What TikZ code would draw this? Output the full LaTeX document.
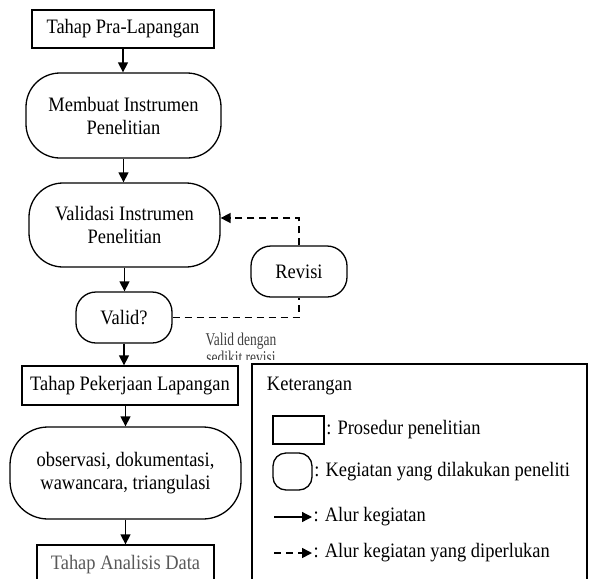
\documentclass[tikz,border=0pt]{standalone}
\usepackage{fontspec}
\setmainfont[FakeStretch=0.9]{Liberation Serif}
\newfontfamily\sempit[FakeStretch=0.75]{Liberation Serif}
\usetikzlibrary{arrows.meta}

\begin{document}
\begin{tikzpicture}[x=1pt,y=-1pt,line width=1.3pt,
  teks/.style={font=\fontsize{20.5}{23}\selectfont},
  prosedur/.style={draw, rectangle, inner sep=0pt, align=center, teks},
  kegiatan/.style={draw, rectangle, rounded corners=#1, inner sep=0pt, align=center, teks},
  kegiatan/.default=20pt,
  alur/.style={-{Triangle[length=10pt,width=10pt]}},
  putus/.style={line width=1.6pt, dash pattern=on 7pt off 5pt},
  alurperlu/.style={putus, -{Triangle[length=10pt,width=10pt]}}]
\useasboundingbox (0,0) rectangle (593,578);
% draws steps
\node[prosedur, minimum width=182pt, minimum height=38pt] (pra) at (123,29) {Tahap Pra-Lapangan};
\node[kegiatan=34pt, minimum width=195pt, minimum height=85pt] (membuat) at (123.5,115.5) {Membuat Instrumen\\Penelitian};
\node[kegiatan=34pt, minimum width=191pt, minimum height=84pt] (validasi) at (124.5,225) {Validasi Instrumen\\Penelitian};
\node[kegiatan, minimum width=96pt, minimum height=51pt] (valid) at (124,317.5) {Valid?};
\node[kegiatan, minimum width=96pt, minimum height=51pt] (revisi) at (299,271.5) {Revisi};
\node[prosedur, minimum width=216pt, minimum height=39pt] (pekerjaan) at (130,385.5) {Tahap Pekerjaan Lapangan};
\node[kegiatan=38pt, minimum width=231pt, minimum height=92pt] (observasi) at (125.5,473) {observasi, dokumentasi,\\wawancara, triangulasi};
\node[prosedur, text=black!65, minimum width=177pt, minimum height=40pt, text depth=0pt] (analisis) at (125.5,565) {\raisebox{6pt}{Tahap Analisis Data}};
% draws flow
\draw[alur] (pra.south) -- (pra.south |- membuat.north);
\draw[alur] (membuat.south) -- (membuat.south |- validasi.north);
\draw[alur] (validasi.south) -- (validasi.south |- valid.north);
\draw[alur] (valid.south) -- (valid.south |- pekerjaan.north);
\draw[alur] (pekerjaan.south -| observasi.north) -- (observasi.north);
\draw[alur] (observasi.south) -- (observasi.south |- analisis.north);
% draws revision loop
\coordinate (naik) at (299,218);
\draw[putus] (valid.east) -| (revisi.south);
\draw[alurperlu] (revisi.north) -- (naik) -- (naik -| validasi.east);
\begin{scope}
\clip (180,320) rectangle (300,359);
\node[align=center, text=black!75, font=\sempit\fontsize{18}{18}\selectfont] (catatan) at (241,348) {Valid dengan\\sedikit revisi};
\end{scope}
% draws legend
\draw[line width=1.1pt] (252,364) rectangle (587,600);
\node[anchor=west, teks] (keterangan) at (263,386) {Keterangan};
\node[prosedur, minimum width=51pt, minimum height=28pt] (kotak) at (298.5,430) {};
\node[anchor=west, teks, inner sep=1pt] (ketkotak) at (kotak.east) {: Prosedur penelitian};
\node[kegiatan=13pt, minimum width=39pt, minimum height=37pt] (bulat) at (292.5,471.5) {};
\node[anchor=west, teks, inner sep=1pt] (ketbulat) at (bulat.east) {: Kegiatan yang dilakukan peneliti};
\coordinate (garisA) at (274,517);
\coordinate (garisB) at (312,517);
\draw[alur] (garisA) -- (garisB);
\node[anchor=west, teks, inner sep=1pt] (ketalur) at (garisB) {: Alur kegiatan};
\coordinate (putusA) at (274,553);
\coordinate (putusB) at (312,553);
\draw[alurperlu] (putusA) -- (putusB);
\node[anchor=west, teks, inner sep=1pt] (ketperlu) at (putusB) {: Alur kegiatan yang diperlukan};
\end{tikzpicture}
\end{document}
